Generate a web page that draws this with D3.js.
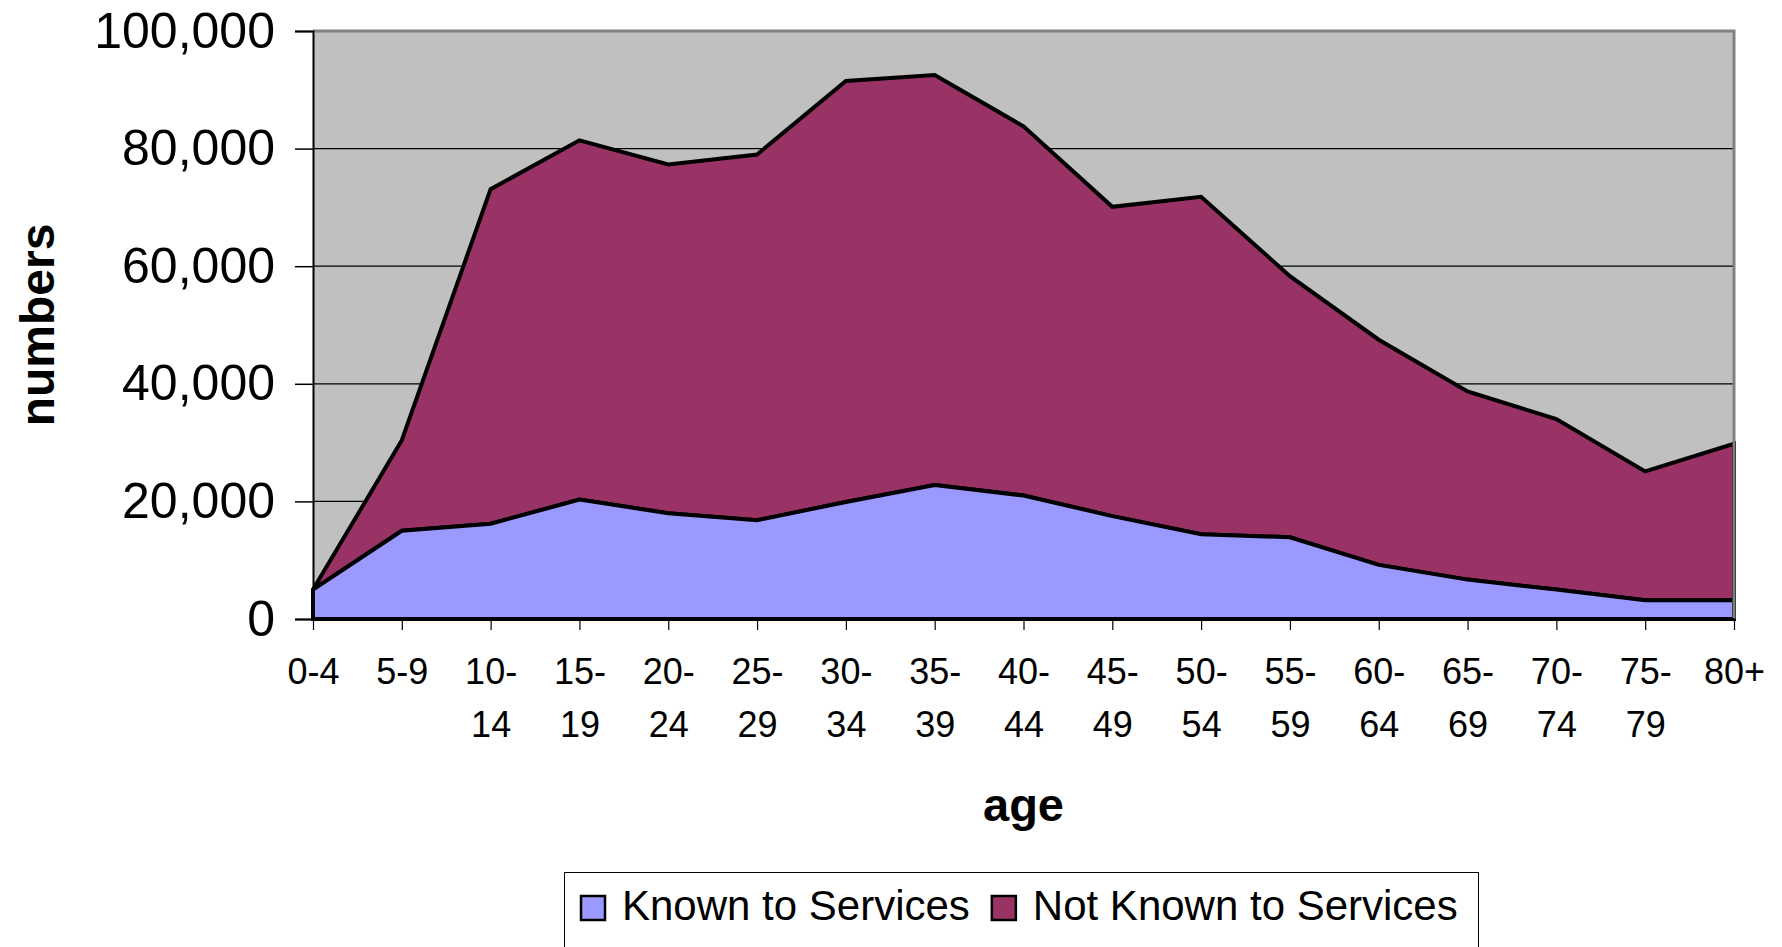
<!DOCTYPE html>
<html>
<head>
<meta charset="utf-8">
<script src="https://cdn.jsdelivr.net/npm/d3@7"></script>
<style>
  html, body { margin: 0; padding: 0; background: #ffffff; }
  svg { display: block; font-family: "Liberation Sans", Arial, sans-serif; }
</style>
</head>
<body>
<svg id="chart" width="1782" height="947"></svg>
<script>
// ---- data ----
const ageGroups = ["0-4", "5-9", "10-14", "15-19", "20-24", "25-29", "30-34", "35-39",
  "40-44", "45-49", "50-54", "55-59", "60-64", "65-69", "70-74", "75-79", "80+"];
const knownToServices = [5000, 15000, 16200, 20300, 18000, 16800, 19900, 22800,
  21000, 17500, 14400, 13900, 9200, 6700, 5000, 3200, 3200];
const notKnownToServices = [0, 15400, 56900, 61100, 59300, 62200, 71600, 69700,
  62800, 52600, 57400, 44400, 38300, 32000, 29000, 21900, 26600];
const seriesNames = ["Known to Services", "Not Known to Services"];
const seriesColors = ["#9999FF", "#993366"];
const yTicks = [0, 20000, 40000, 60000, 80000, 100000];

// ---- layout ----
const svg = d3.select("#chart");
const L = 313, R = 1734, T = 31, B = 619;

const x = d3.scalePoint().domain(ageGroups).range([L, R]).padding(0);
const y = d3.scaleLinear().domain([0, 100000]).range([B, T]);

// plot background
svg.append("rect").attr("x", L).attr("y", T).attr("width", R - L).attr("height", B - T)
  .attr("fill", "#C0C0C0");

// gridlines
svg.append("g").selectAll("line").data(yTicks.filter(v => v > 0 && v < 100000)).join("line")
  .attr("x1", L).attr("x2", R).attr("y1", d => y(d)).attr("y2", d => y(d))
  .attr("stroke", "#000").attr("stroke-width", 1.2);

// stacked areas
const rows = ageGroups.map((g, i) => ({ age: g, known: knownToServices[i], notKnown: notKnownToServices[i] }));
const stack = d3.stack().keys(["known", "notKnown"]);
const stacked = stack(rows);
const area = d3.area()
  .x(d => x(d.data.age))
  .y0(d => y(d[0]))
  .y1(d => y(d[1]));

svg.append("g").selectAll("path").data(stacked.slice().reverse()).join("path")
  .attr("d", area)
  .attr("fill", (d) => seriesColors[d.index])
  .attr("stroke", "#000").attr("stroke-width", 4).attr("stroke-linejoin", "miter");

// plot border (top & right gray)
svg.append("path")
  .attr("d", `M${L},${T}H${R}V${B}`)
  .attr("fill", "none").attr("stroke", "#808080").attr("stroke-width", 3);

// y axis
const yAxis = d3.axisLeft(y).tickValues(yTicks).tickFormat(d3.format(",")).tickSize(18).tickPadding(20);
const gy = svg.append("g").attr("transform", `translate(${L},0)`).call(yAxis);
gy.select(".domain").attr("stroke", "#000").attr("stroke-width", 2);
gy.selectAll(".tick line").attr("stroke", "#000").attr("stroke-width", 1.5);
gy.selectAll(".tick text").attr("font-size", 50).attr("fill", "#000")
  .attr("font-family", "'Liberation Sans', Arial, sans-serif");

// x axis
const xAxis = d3.axisBottom(x).tickSize(11).tickSizeOuter(0).tickFormat(() => "");
const gx = svg.append("g").attr("transform", `translate(0,${B})`).call(xAxis);
gx.select(".domain").attr("stroke", "#000").attr("stroke-width", 3);
gx.selectAll(".tick line").attr("stroke", "#000").attr("stroke-width", 1.2);
gx.selectAll(".tick").each(function(d) {
  const parts = d.includes("-") ? [d.slice(0, d.indexOf("-") + 1), d.slice(d.indexOf("-") + 1)] : [d];
  const lines = (d === "0-4" || d === "5-9") ? [d] : parts;
  const t = d3.select(this).append("text")
    .attr("fill", "#000").attr("font-size", 36).attr("text-anchor", "middle")
    .attr("font-family", "'Liberation Sans', Arial, sans-serif");
  lines.forEach((s, i) => {
    t.append("tspan").attr("x", 0).attr("y", 65 + i * 53).text(s);
  });
});

// axis titles
svg.append("text").attr("transform", `translate(54,${(T + B) / 2}) rotate(-90)`)
  .attr("text-anchor", "middle").attr("font-weight", "bold").attr("font-size", 48)
  .attr("fill", "#000").text("numbers");
svg.append("text").attr("x", (L + R) / 2).attr("y", 821)
  .attr("text-anchor", "middle").attr("font-weight", "bold").attr("font-size", 47)
  .attr("fill", "#000").text("age");

// legend
const lg = svg.append("g");
lg.append("rect").attr("x", 564.5).attr("y", 872.5).attr("width", 914).attr("height", 100)
  .attr("fill", "#fff").attr("stroke", "#000").attr("stroke-width", 1);
let lx = 581;
seriesNames.forEach((name, i) => {
  lg.append("rect").attr("x", lx).attr("y", 896).attr("width", 24).attr("height", 24)
    .attr("fill", seriesColors[i]).attr("stroke", "#000").attr("stroke-width", 2.5);
  const t = lg.append("text").attr("x", lx + 41).attr("y", 920).attr("font-size", 42)
    .attr("fill", "#000").text(name);
  lx = lx + 41 + t.node().getComputedTextLength() + 22;
});
</script>
</body>
</html>
